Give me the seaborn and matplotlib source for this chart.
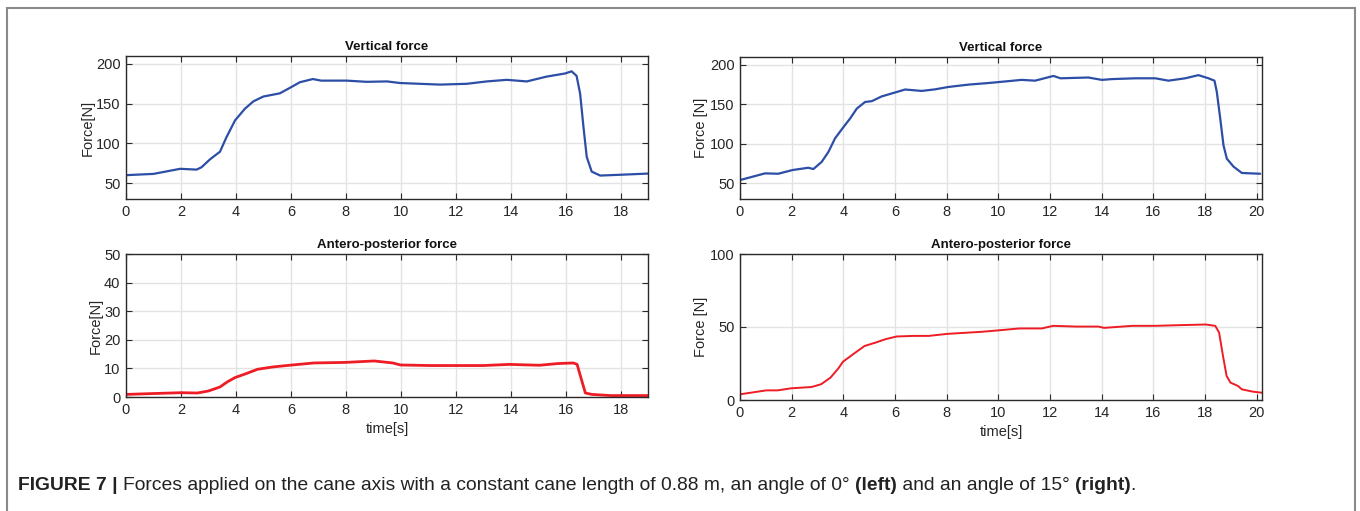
import matplotlib
matplotlib.use("Agg")
import matplotlib.pyplot as plt
from matplotlib.patches import Rectangle
import seaborn as sns

# left panel (0 deg)
t_vert_left = [0, 1.0, 1.97, 2.57, 2.75, 3.06, 3.42, 3.66, 3.97, 4.33, 4.64, 5.0, 5.6, 5.97,
               6.33, 6.8, 7.1, 8.03, 8.76, 9.5, 9.97, 11.43, 12.4, 13.13, 13.86, 14.59, 15.3,
               15.98, 16.22, 16.4, 16.53, 16.65, 16.77, 16.95, 17.26, 17.98, 19.0]
f_vert_left = [60, 61.6, 68, 67, 70, 80, 89.5, 108, 129, 143.7, 153, 159, 163, 170,
               177, 181, 179, 179, 177.5, 178, 176, 174, 175, 178, 180, 178, 184,
               188, 190.7, 185, 162.5, 121, 83, 64.5, 59.5, 60.5, 62]

t_ap_left = [0, 0.96, 2.0, 2.6, 3.0, 3.42, 3.69, 3.97, 4.38, 4.79, 5.34, 5.95, 6.84, 8.0,
             9.03, 9.71, 9.99, 11.08, 11.97, 13.0, 13.95, 15.05, 15.73, 16.28, 16.42, 16.55,
             16.72, 16.96, 17.65, 19.0]
f_ap_left = [0.9, 1.2, 1.5, 1.4, 2.1, 3.5, 5.3, 6.8, 8.2, 9.7, 10.5, 11.1, 11.9, 12.1,
             12.6, 11.9, 11.2, 11.0, 11.0, 11.0, 11.4, 11.1, 11.7, 11.9, 11.4, 7.0,
             1.4, 0.9, 0.5, 0.5]

# right panel (15 deg)
t_vert_right = [0, 0.97, 1.48, 2.03, 2.64, 2.84, 3.16, 3.42, 3.68, 4.0, 4.26, 4.52, 4.84, 5.1,
                5.48, 6.0, 6.39, 7.03, 7.55, 8.06, 8.84, 9.61, 10.26, 10.9, 11.42, 12.13, 12.4,
                13.48, 14.0, 14.4, 15.3, 16.07, 16.58, 17.23, 17.74, 18.13, 18.36, 18.45, 18.58,
                18.71, 18.84, 19.1, 19.42, 20.13]
f_vert_right = [54, 62.5, 62, 66.7, 69.6, 68, 77, 89.6, 107, 121, 132, 144.6, 153, 154,
                160, 165, 168.8, 167, 169, 172, 175, 177, 179, 181, 180, 186, 183,
                184, 181, 182, 183, 183, 180, 183, 187, 183, 180, 166, 133,
                98, 81, 71, 63, 62]

t_ap_right = [0, 1.02, 1.46, 1.97, 2.77, 3.14, 3.5, 3.8, 3.99, 4.38, 4.82, 5.26, 5.62, 6.06,
              6.72, 7.3, 8.03, 9.34, 10.07, 10.8, 11.68, 12.12, 13.0, 13.87, 14.09, 15.18,
              16.06, 17.08, 18.03, 18.39, 18.54, 18.69, 18.83, 18.98, 19.27, 19.42, 19.85, 20.19]
f_ap_right = [3.9, 6.6, 6.6, 8.0, 8.9, 10.8, 15.3, 21.5, 26.3, 31.4, 37, 39.4, 41.6, 43.5,
              43.9, 43.9, 45.3, 46.7, 47.8, 49.0, 49.0, 50.8, 50.3, 50.3, 49.4, 50.8,
              50.8, 51.3, 51.7, 50.8, 46.2, 30.2, 16.5, 11.9, 9.6, 7.3, 5.7, 5.0]

xticks_left = list(range(0, 19, 2))
xticks_right = list(range(0, 21, 2))

BLUE = "#2d4ea6"
RED = "#ee1c25"

sns.set_style("whitegrid")
plt.rcParams["font.family"] = ["Liberation Sans", "DejaVu Sans"]

fig = plt.figure(figsize=(13.6, 5.11), dpi=100)

W, H = 1360, 511
def add_ax(x0, y0, x1, y1):
    return fig.add_axes([x0 / W, 1 - y1 / H, (x1 - x0) / W, (y1 - y0) / H])

ax_tl = add_ax(126, 56, 648, 199)
ax_bl = add_ax(126, 254, 648, 397)
ax_tr = add_ax(740, 57, 1262, 199)
ax_br = add_ax(740, 254, 1262, 400)

sns.lineplot(x=t_vert_left, y=f_vert_left, ax=ax_tl, color=BLUE, linewidth=1.6)
sns.lineplot(x=t_ap_left, y=f_ap_left, ax=ax_bl, color=RED, linewidth=2.0)
sns.lineplot(x=t_vert_right, y=f_vert_right, ax=ax_tr, color=BLUE, linewidth=1.6)
sns.lineplot(x=t_ap_right, y=f_ap_right, ax=ax_br, color=RED, linewidth=1.4)

setup = [
    (ax_tl, (0, 19), (30, 210), [50, 100, 150, 200], xticks_left, "Vertical force", "Force[N]", False),
    (ax_bl, (0, 19), (0, 50), [0, 10, 20, 30, 40, 50], xticks_left, "Antero-posterior force", "Force[N]", True),
    (ax_tr, (0, 20.2), (30, 210), [50, 100, 150, 200], xticks_right, "Vertical force", "Force [N]", False),
    (ax_br, (0, 20.2), (0, 100), [0, 50, 100], xticks_right, "Antero-posterior force", "Force [N]", True),
]
for ax, xl, yl, yt, xt, title, ylab, show_x in setup:
    ax.set_xlim(*xl)
    ax.set_ylim(*yl)
    ax.set_yticks(yt)
    ax.set_xticks(xt)
    ax.grid(True, color="#e3e3e3", linewidth=1.0)
    for s in ax.spines.values():
        s.set_color("#2a2a2a")
        s.set_linewidth(1.0)
    ax.tick_params(direction="in", top=True, right=True, bottom=True, left=True,
                   length=4, width=0.8, color="#2a2a2a", labelsize=10.5,
                   labelcolor="#262626", pad=4)
    ax.set_title(title, fontsize=9.5, fontweight="bold", pad=4, color="#111111")
    ax.set_ylabel(ylab, fontsize=10.5, color="#262626", labelpad=1)
    if show_x:
        ax.set_xlabel("time[s]", fontsize=10.5, color="#262626", labelpad=4)
    else:
        ax.set_xlabel("")

# outer frame
fig.patches.append(Rectangle((7 / W, -0.2), (1355 - 7) / W, 1.2 - 8 / H,
                             transform=fig.transFigure, fill=False,
                             edgecolor="#8a8a8a", linewidth=1.5))

# caption, pieced together with bold parts
parts = [("FIGURE 7 | ", "bold"),
         ("Forces applied on the cane axis with a constant cane length of 0.88 m, an angle of 0° ", "normal"),
         ("(left)", "bold"),
         (" and an angle of 15° ", "normal"),
         ("(right)", "bold"),
         (".", "normal")]
renderer = fig.canvas.get_renderer()
x = 18 / W
y = 1 - 486 / H
for txt, wt in parts:
    t = fig.text(x, y, txt, fontsize=13.9, fontweight=wt, va="center", ha="left", color="#222222")
    bb = t.get_window_extent(renderer=renderer)
    x += bb.width / W

fig.savefig("out.png", dpi=100)
